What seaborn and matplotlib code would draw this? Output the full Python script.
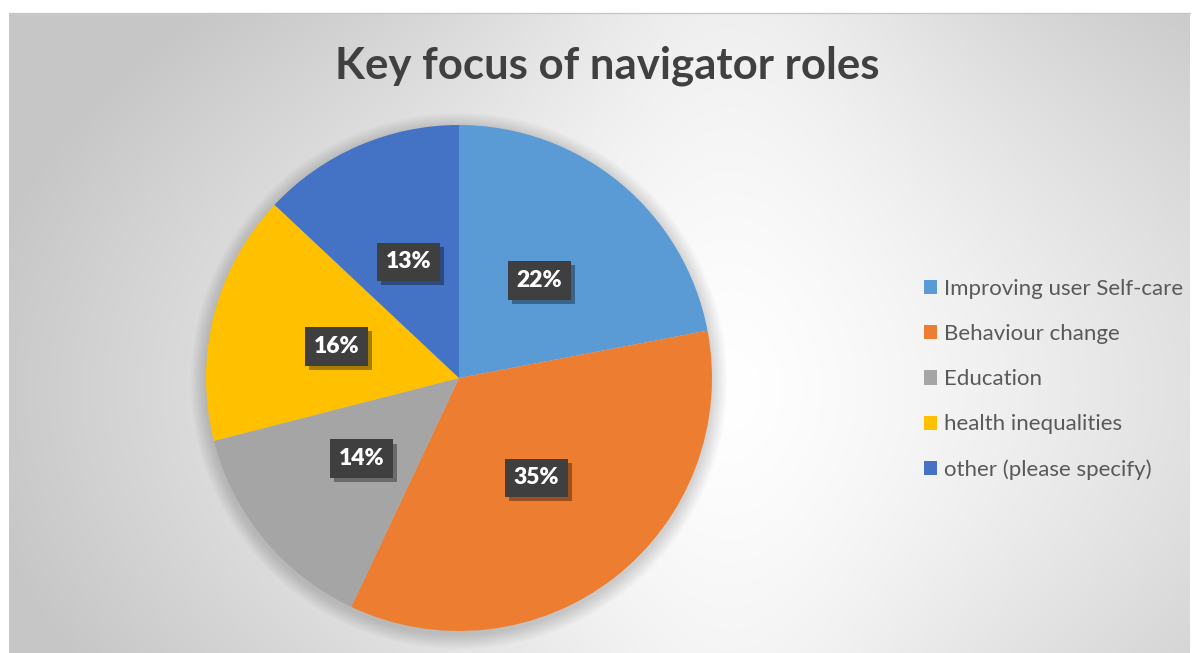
import numpy as np
import matplotlib
matplotlib.use("Agg")
import matplotlib.pyplot as plt
import matplotlib.patheffects as pe
from matplotlib.patches import Circle
import seaborn as sns

# ---- data ----
categories = ["Improving user Self-care", "Behaviour change", "Education",
              "health inequalities", "other (please specify)"]
values = [22, 35, 14, 16, 13]
colors_hex = ["#5B9BD5", "#ED7D31", "#A5A5A5", "#FFC000", "#4472C4"]
title = "Key focus of navigator roles"

sns.set_theme(style="white")
plt.rcParams["font.family"] = ["Lato", "DejaVu Sans"]
palette = sns.color_palette(colors_hex)

W, H = 1192, 653
fig = plt.figure(figsize=(W / 100, H / 100), dpi=100)
fig.patch.set_facecolor("white")

# ---- background gradient ----
bl, bt, br, bb = 9, 13, 1190, 653
bg = fig.add_axes([bl / W, 1 - bb / H, (br - bl) / W, (bb - bt) / H])
xs = np.linspace(bl, br, 600)
ys = np.linspace(bt, bb, 330)
X, Y = np.meshgrid(xs, ys)
cx, cy, rx, ry = 730, 390, 760, 520
dx = (X - cx) / rx
dy = (Y - cy) / ry
w = 1 - np.exp(-(dx / 0.35) ** 2)
a = np.sqrt(dx ** 2 + dy ** 2 * (0.25 + 0.75 * w))
a = np.clip(a, 0, 1)
val = 1.0 - 0.22 * a ** 1.25
img = np.dstack([val, val, val])
bg.imshow(img, extent=[0, 1, 0, 1], aspect="auto", origin="upper")
bg.set_axis_off()
fig.add_artist(plt.Line2D([bl / W, br / W], [1 - bt / H, 1 - bt / H],
                          color="#c8c8c8", lw=1))

# ---- pie ----
pcx, pcy, R = 459, 378, 253
ax = fig.add_axes([(pcx - R) / W, 1 - (pcy + R) / H, 2 * R / W, 2 * R / H])
ax.set_axis_off()

for i in range(10):
    ax.add_patch(Circle((0.0, -0.012), 1.0 + 0.006 * (i + 1),
                        color="black", alpha=0.016, lw=0, zorder=0,
                        clip_on=False))

wedges, texts, autotexts = ax.pie(
    values, colors=palette, startangle=90, counterclock=False,
    autopct="%1.0f%%", pctdistance=0.5, radius=1.0,
    wedgeprops=dict(linewidth=0, zorder=1),
    textprops=dict(color="white", fontsize=16.5, fontweight="heavy"),
)
ax.set_xlim(-1, 1)
ax.set_ylim(-1, 1)
ax.set_aspect("auto")
for t in autotexts:
    t.set_fontweight("heavy")
    t.set_bbox(dict(boxstyle="square,pad=0.38", fc="#3f3f3f", ec="none"))
    t.get_bbox_patch().set_path_effects(
        [pe.SimplePatchShadow(offset=(3, -3), alpha=0.35, shadow_rgbFace="black"),
         pe.Normal()])

# ---- title ----
fig.text(607 / W, 1 - 66 / H, title, ha="center", va="center",
         fontsize=31.5, fontweight="bold", color="#404040")

# ---- legend ----
leg = fig.legend(wedges, categories, loc="upper left",
                 bbox_to_anchor=(913 / W, 1 - 268 / H),
                 frameon=False, fontsize=16, labelcolor="#595959",
                 handlelength=0.6, handleheight=0.6, handletextpad=0.28,
                 labelspacing=1.13, borderpad=0)

fig.savefig("out.png", dpi=100)
